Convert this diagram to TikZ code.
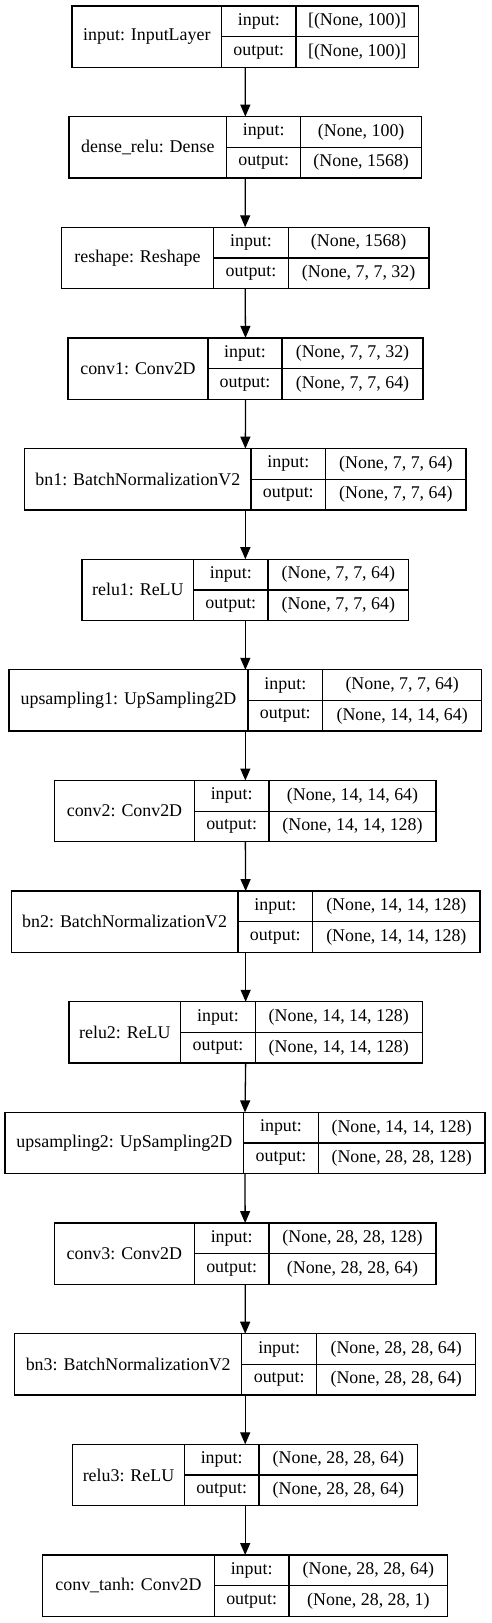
\documentclass[tikz,border=0pt]{standalone}
\usepackage{fontspec}
\setmainfont{Liberation Serif}
\usetikzlibrary{arrows.meta}
\tikzset{
  box/.style={draw, line width=1.3pt, inner sep=0pt, outer sep=0pt, anchor=north west,
    minimum height=61.3pt, font=\fontsize{17.9}{21}\selectfont},
  outer/.style={box, draw=none},
  half/.style={box, minimum height=30.65pt},
  arr/.style={-{Triangle[length=12pt,width=10pt]}, line width=1.3pt},
}
% #1 name, #2 top, #3 x0, #4 x1, #5 x2, #6 x3, #7 label, #8 input, #9 output
\newcommand\mklayer[9]{%
  \node[outer, minimum width={(#6-#3)*1pt}] (#1) at (#3,#2) {};
  \node[box, minimum width={(#4-#3)*1pt}] (#1-n) at (#3,#2) {#7};
  \node[half, minimum width={(#5-#4)*1pt}] (#1-il) at (#4,#2) {input:};
  \node[half, minimum width={(#6-#5)*1pt}] (#1-iv) at (#5,#2) {#8};
  \node[half, minimum width={(#5-#4)*1pt}] (#1-ol) at (#4,#2+30.65) {output:};
  \node[half, minimum width={(#6-#5)*1pt}] (#1-ov) at (#5,#2+30.65) {#9};
}
\begin{document}
\begin{tikzpicture}[x=1pt, y=-1pt]
\useasboundingbox (0,0) rectangle (491,1623);
\mklayer{l0}{6}{72}{221.7}{296}{418.5}{input: InputLayer}{[(None, 100)]}{[(None, 100)]}
\mklayer{l1}{116.6}{69}{226.7}{300.7}{421.7}{dense\_relu: Dense}{(None, 100)}{(None, 1568)}
\mklayer{l2}{227.3}{61.3}{213.7}{288.3}{429}{reshape: Reshape}{(None, 1568)}{(None, 7, 7, 32)}
\mklayer{l3}{337.9}{68}{208}{282}{423}{conv1: Conv2D}{(None, 7, 7, 32)}{(None, 7, 7, 64)}
\mklayer{l4}{448.6}{24.7}{251}{325.7}{466}{bn1: BatchNormalizationV2}{(None, 7, 7, 64)}{(None, 7, 7, 64)}
\mklayer{l5}{559.2}{82}{193.7}{268}{408.7}{relu1: ReLU}{(None, 7, 7, 64)}{(None, 7, 7, 64)}
\mklayer{l6}{669.8}{9}{248}{322.7}{481.7}{upsampling1: UpSampling2D}{(None, 7, 7, 64)}{(None, 14, 14, 64)}
\mklayer{l7}{780.5}{54.7}{194.3}{269}{436}{conv2: Conv2D}{(None, 14, 14, 64)}{(None, 14, 14, 128)}
\mklayer{l8}{891.1}{11.3}{238}{312.7}{480}{bn2: BatchNormalizationV2}{(None, 14, 14, 128)}{(None, 14, 14, 128)}
\mklayer{l9}{1001.8}{69}{180.7}{255.3}{422.3}{relu2: ReLU}{(None, 14, 14, 128)}{(None, 14, 14, 128)}
\mklayer{l10}{1112.4}{5}{243.7}{318.3}{485}{upsampling2: UpSampling2D}{(None, 14, 14, 128)}{(None, 28, 28, 128)}
\mklayer{l11}{1223.0}{54.3}{194.3}{269}{436}{conv3: Conv2D}{(None, 28, 28, 128)}{(None, 28, 28, 64)}
\mklayer{l12}{1333.7}{14.7}{241.7}{316.7}{475.7}{bn3: BatchNormalizationV2}{(None, 28, 28, 64)}{(None, 28, 28, 64)}
\mklayer{l13}{1444.3}{72.7}{184.3}{259}{417.7}{relu3: ReLU}{(None, 28, 28, 64)}{(None, 28, 28, 64)}
\mklayer{l14}{1555.0}{42.7}{214.3}{289}{447.7}{conv\_tanh: Conv2D}{(None, 28, 28, 64)}{(None, 28, 28, 1)}
\foreach \a/\b in {l0/l1,l1/l2,l2/l3,l3/l4,l4/l5,l5/l6,l6/l7,l7/l8,l8/l9,l9/l10,l10/l11,l11/l12,l12/l13,l13/l14}
  \draw[arr] (\a.south) -- (\b.north);
\end{tikzpicture}
\end{document}
